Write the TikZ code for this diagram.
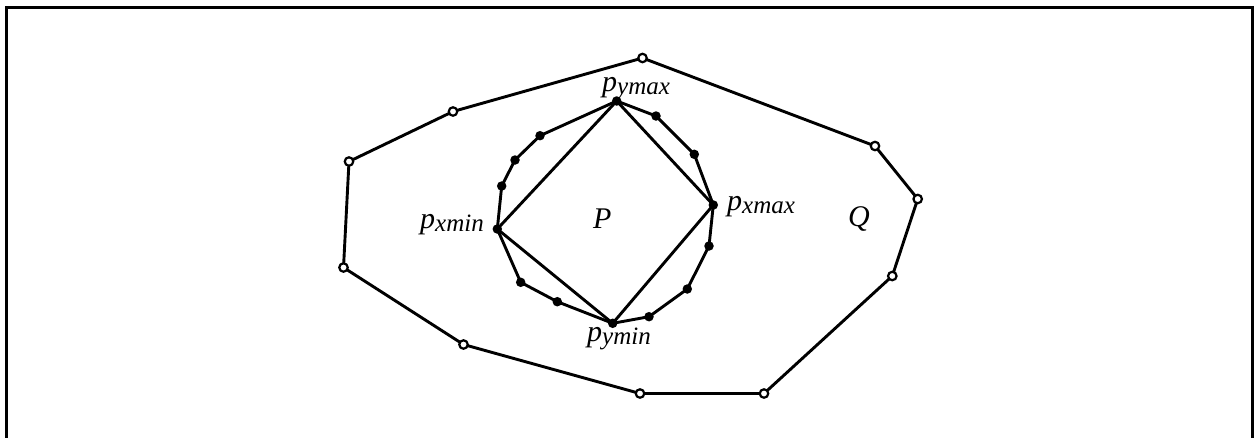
\documentclass[tikz,border=0pt]{standalone}
\usepackage{fontspec}
\setmainfont{Liberation Serif}
\tikzset{
  edge/.style={line width=2.9pt, line join=round},
  qpt/.style={circle, draw, fill=white, line width=2.2pt, minimum size=8.5pt, inner sep=0pt},
  ppt/.style={circle, fill=black, minimum size=9.5pt, inner sep=0pt},
  lbl/.style={inner sep=0pt, anchor=base west, font=\fontsize{30}{30}\selectfont\itshape},
}
\newcommand{\psub}[1]{p\raisebox{-3pt}{\fontsize{25}{25}\selectfont #1}}
\begin{document}
\begin{tikzpicture}[x=1pt,y=-1pt]
\useasboundingbox (0,0) rectangle (1256,437);
% frame (no bottom edge visible)
\draw[line width=3pt] (6.5,445) -- (6.5,7) -- (1252.5,7) -- (1252.5,445);
% outer polygon Q
\coordinate (q1) at (642.5,58);
\coordinate (q2) at (453,111.5);
\coordinate (q3) at (349,161.5);
\coordinate (q4) at (343.5,267.5);
\coordinate (q5) at (463.5,344.5);
\coordinate (q6) at (640,393.5);
\coordinate (q7) at (764,393.5);
\coordinate (q8) at (892.3,276);
\coordinate (q9) at (917.7,199);
\coordinate (q10) at (875,146);
\draw[edge] (q1)--(q2)--(q3)--(q4)--(q5)--(q6)--(q7)--(q8)--(q9)--(q10)--cycle;
% inner polygon P
\coordinate (ymax) at (616.7,101);
\coordinate (p2) at (656,116);
\coordinate (p3) at (694.3,154.3);
\coordinate (xmax) at (713.3,205);
\coordinate (p5) at (709,246);
\coordinate (p6) at (687.3,289);
\coordinate (p7) at (649,316.7);
\coordinate (ymin) at (612.7,323.3);
\coordinate (p9) at (557.3,301.7);
\coordinate (p10) at (520.7,282.3);
\coordinate (xmin) at (497.3,229);
\coordinate (p12) at (501.7,186);
\coordinate (p13) at (515,160);
\coordinate (p14) at (540,135.7);
\draw[edge] (ymax)--(p2)--(p3)--(xmax)--(p5)--(p6)--(p7)--(ymin)--(p9)--(p10)--(xmin)--(p12)--(p13)--(p14)--cycle;
\draw[edge] (ymax)--(xmax)--(ymin)--(xmin)--cycle;
% vertex markers
\foreach \c in {q1,q2,q3,q4,q5,q6,q7,q8,q9,q10}
  \node[qpt] at (\c) {};
\foreach \c in {ymax,p2,p3,xmax,p5,p6,p7,ymin,p9,p10,xmin,p12,p13,p14}
  \node[ppt] at (\c) {};
% labels
\node[lbl] (lymax) at (602,91) {\psub{ymax}};
\node[lbl] (lxmin) at (420,228.5) {\psub{xmin}};
\node[lbl] (lymin) at (587,341.5) {\psub{ymin}};
\node[lbl] (lxmax) at (727,210) {\psub{xmax}};
\node[lbl] (lP) at (593,228) {P};
\node[lbl] (lQ) at (848,226) {Q};
\end{tikzpicture}
\end{document}
